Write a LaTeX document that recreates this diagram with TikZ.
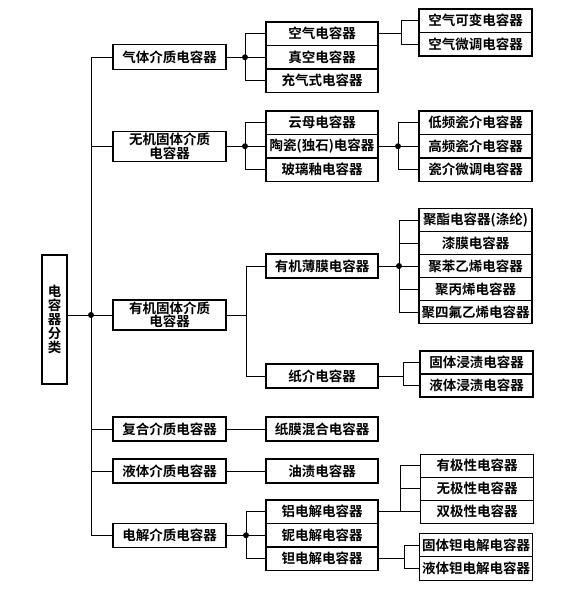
\documentclass[tikz,border=0pt]{standalone}
\usepackage{fontspec}
\setmainfont{Noto Sans CJK SC}[BoldFont={Noto Sans CJK SC Bold}]
\begin{document}
\begin{tikzpicture}[x=1pt,y=-1pt,
  box/.style={draw,line width=1.3pt,inner sep=0pt,minimum height=23.5pt,
    font=\fontsize{13.5}{13.5}\selectfont\bfseries,align=center},
  w1/.style={box,minimum width=113pt},
  w2/.style={box,minimum width=112pt},
  w3/.style={box,minimum width=113pt},
  conn/.style={line width=1pt},
  jdot/.style={circle,fill,inner sep=0pt,minimum size=6pt}]
\useasboundingbox (0,0) rectangle (568,590);
% root
\node[draw,line width=1.3pt,inner sep=0pt,minimum width=25pt,minimum height=129pt,
  font=\fontsize{13.5}{14}\selectfont\bfseries,align=center] (root) at (54.5,319.5)
  {电\\容\\器\\分\\类};
% level 1
\node[w1,minimum height=25pt] (a1) at (169.5,57.25) {气体介质电容器};
\node[w1,minimum height=30pt] (b1) at (169.5,146.25) {无机固体介质\\电容器};
\node[w1,minimum height=30pt] (c1) at (169.5,315) {有机固体介质\\电容器};
\node[w1,minimum height=24pt] (d1) at (169.5,429) {复合介质电容器};
\node[w1,minimum height=24pt] (e1) at (169.5,471) {液体介质电容器};
\node[w1,minimum height=24pt] (f1) at (169.5,535.25) {电解介质电容器};
% main trunk
\node[jdot] (md) at (91,315) {};
\coordinate (mtop) at (91,57.25);
\coordinate (mbot) at (91,535.25);
\draw[conn] (mtop) -- (mbot);
\draw[conn] (root.east |- md) -- (md);
\foreach \n in {a1,b1,c1,d1,e1,f1}{\draw[conn] (mtop |- \n.west) -- (\n.west);}
% level 2 gas
\node[w2] (a2) at (322,33.75) {空气电容器};
\node[w2] (a3) at (322,57.25) {真空电容器};
\node[w2] (a4) at (322,80.75) {充气式电容器};
\node[jdot] (ja) at (245,57.25) {};
\draw[conn] (a1.east) -- (ja);
\draw[conn] (ja |- a2.west) -- (ja |- a4.west);
\foreach \n in {a2,a3,a4}{\draw[conn] (ja |- \n.west) -- (\n.west);}
% level 3 gas
\node[w3] (a5) at (475.5,20.75) {空气可变电容器};
\node[w3] (a6) at (475.5,44.25) {空气微调电容器};
\coordinate (ja2) at (401,33.75);
\draw[conn] (a2.east) -- (ja2);
\draw[conn] (ja2 |- a5.west) -- (ja2 |- a6.west);
\foreach \n in {a5,a6}{\draw[conn] (ja2 |- \n.west) -- (\n.west);}
% level 2 inorganic
\node[w2] (b2) at (322,122.75) {云母电容器};
\node[w2] (b3) at (322,146.25) {陶瓷(独石)电容器};
\node[w2] (b4) at (322,169.75) {玻璃釉电容器};
\node[jdot] (jb) at (245,146.25) {};
\draw[conn] (b1.east) -- (jb);
\draw[conn] (jb |- b2.west) -- (jb |- b4.west);
\foreach \n in {b2,b3,b4}{\draw[conn] (jb |- \n.west) -- (\n.west);}
% level 3 ceramic
\node[w3] (b5) at (475.5,122.75) {低频瓷介电容器};
\node[w3] (b6) at (475.5,146.25) {高频瓷介电容器};
\node[w3] (b7) at (475.5,169.75) {瓷介微调电容器};
\node[jdot] (jb2) at (398,146.25) {};
\draw[conn] (b3.east) -- (jb2);
\draw[conn] (jb2 |- b5.west) -- (jb2 |- b7.west);
\foreach \n in {b5,b6,b7}{\draw[conn] (jb2 |- \n.west) -- (\n.west);}
% level 2 organic
\node[w2,minimum height=24pt] (c2) at (322,266) {有机薄膜电容器};
\node[w2,minimum height=24pt] (c3) at (322,376) {纸介电容器};
\coordinate (jc) at (246,315);
\draw[conn] (c1.east) -- (jc);
\draw[conn] (jc |- c2.west) -- (jc |- c3.west);
\foreach \n in {c2,c3}{\draw[conn] (jc |- \n.west) -- (\n.west);}
% level 3 film
\node[w3,minimum height=23pt] (c4) at (475.5,220) {聚酯电容器(涤纶)};
\node[w3,minimum height=23pt] (c5) at (475.5,243) {漆膜电容器};
\node[w3,minimum height=23pt] (c6) at (475.5,266) {聚苯乙烯电容器};
\node[w3,minimum height=23pt] (c7) at (475.5,289) {聚丙烯电容器};
\node[w3,minimum height=23pt] (c8) at (475.5,312) {聚四氟乙烯电容器};
\node[jdot] (jc2) at (399,266) {};
\draw[conn] (c2.east) -- (jc2);
\draw[conn] (jc2 |- c4.west) -- (jc2 |- c8.west);
\foreach \n in {c4,c5,c6,c7,c8}{\draw[conn] (jc2 |- \n.west) -- (\n.west);}
% level 3 paper
\node[w3,minimum height=23pt] (c9) at (476.5,362.5) {固体浸渍电容器};
\node[w3,minimum height=23pt] (c10) at (476.5,385.5) {液体浸渍电容器};
\coordinate (jc3) at (403,376);
\draw[conn] (c3.east) -- (jc3);
\draw[conn] (jc3 |- c9.west) -- (jc3 |- c10.west);
\foreach \n in {c9,c10}{\draw[conn] (jc3 |- \n.west) -- (\n.west);}
% composite
\node[w2,minimum height=24pt] (d2) at (322,429) {纸膜混合电容器};
\draw[conn] (d1.east) -- (d2.west);
% liquid
\node[w2,minimum height=24pt] (e2) at (322,471) {油渍电容器};
\draw[conn] (e1.east) -- (e2.west);
% level 2 electrolytic
\node[w2] (f2) at (322,511.75) {铝电解电容器};
\node[w2] (f3) at (322,535.25) {铌电解电容器};
\node[w2] (f4) at (322,558.75) {钽电解电容器};
\node[jdot] (jf) at (246,535.25) {};
\draw[conn] (f1.east) -- (jf);
\draw[conn] (jf |- f2.west) -- (jf |- f4.west);
\foreach \n in {f2,f3,f4}{\draw[conn] (jf |- \n.west) -- (\n.west);}
% level 3 aluminium
\node[w3,minimum height=23pt] (f5) at (477,465.75) {有极性电容器};
\node[w3,minimum height=23pt] (f6) at (477,488.75) {无极性电容器};
\node[w3,minimum height=23pt] (f7) at (477,511.75) {双极性电容器};
\coordinate (jf2) at (400,511.75);
\draw[conn] (f2.east) -- (f7.west);
\draw[conn] (jf2 |- f5.west) -- (jf2);
\foreach \n in {f5,f6}{\draw[conn] (jf2 |- \n.west) -- (\n.west);}
% level 3 tantalum
\node[w3,minimum height=23.5pt] (f8) at (476,545) {固体钽电解电容器};
\node[w3,minimum height=23.5pt] (f9) at (476,568.5) {液体钽电解电容器};
\coordinate (jf3) at (404,558.75);
\draw[conn] (f4.east) -- (jf3);
\draw[conn] (jf3 |- f8.west) -- (jf3 |- f9.west);
\foreach \n in {f8,f9}{\draw[conn] (jf3 |- \n.west) -- (\n.west);}
\end{tikzpicture}
\end{document}
